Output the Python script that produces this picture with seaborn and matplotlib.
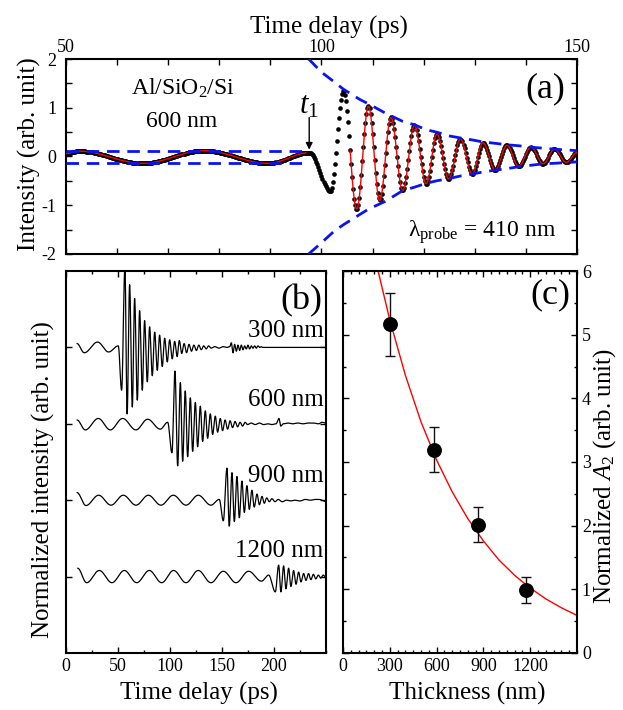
import numpy as np
import seaborn as sns
import matplotlib.pyplot as plt
from matplotlib.ticker import MultipleLocator, FixedLocator, NullFormatter

sns.set_theme(style='ticks')
# Times-like serif, set after set_theme
plt.rcParams['font.family'] = ['Liberation Serif', 'DejaVu Serif']
plt.rcParams['mathtext.fontset'] = 'custom'
plt.rcParams['mathtext.rm'] = 'Liberation Serif'
plt.rcParams['mathtext.it'] = 'Liberation Serif:italic'
plt.rcParams['axes.unicode_minus'] = False
for k in ['text.color', 'axes.labelcolor', 'xtick.color', 'ytick.color', 'axes.edgecolor']:
    plt.rcParams[k] = 'black'

# ---------------- data ----------------
# (a) 600 nm trace, turning points (ps, arb. unit)
a_t = [50.0, 52.5, 65.0, 77.0, 89.5, 97.7, 101.7, 104.3, 106.9, 109.2, 111.4, 113.6,
       115.9, 118.2, 120.5, 122.6, 124.9, 127.2, 129.5, 131.6, 134.0, 136.3, 138.6,
       141.0, 143.4, 145.6, 147.9, 150.0]
a_v = [0.06, 0.11, -0.14, 0.12, -0.14, 0.08, -0.71, 1.35, -1.08, 1.03, -0.90, 0.80,
       -0.70, 0.64, -0.56, 0.46, -0.46, 0.36, -0.36, 0.28, -0.28, 0.23, -0.20,
       0.19, -0.15, 0.15, -0.12, 0.08]
fit_pre_end = 97.0     # red fit before t1
fit_post_start = 105.6  # red fit of the echo
# blue dashed guides
band_t = [50.0, 97.5]
band_hi = [0.12, 0.12]
band_lo = [-0.14, -0.14]
env_t = [97.5, 100.0, 102.5, 104.3, 107.5, 109.2, 112.5, 115.9, 118.2, 120.5, 122.5,
         125.1, 127.2, 129.5, 131.5, 134.0, 136.3, 138.6, 141.0, 143.4, 145.6, 150.0]
env_hi = [2.00, 1.73, 1.53, 1.38, 1.17, 1.08, 0.89, 0.72, 0.65, 0.55, 0.50,
          0.42, 0.38, 0.34, 0.30, 0.27, 0.24, 0.22, 0.19, 0.17, 0.15, 0.12]
env_lo = [-2.00, -1.77, -1.53, -1.40, -1.19, -1.08, -0.92, -0.70, -0.63, -0.55, -0.50,
          -0.45, -0.40, -0.36, -0.32, -0.28, -0.25, -0.21, -0.18, -0.15, -0.14, -0.11]

# (b) normalized traces, turning points (ps, arb. unit), offset per thickness
b_labels = ['300 nm', '600 nm', '900 nm', '1200 nm']
b_offsets = [3, 2, 1, 0]
b_label_y = [3.13, 2.23, 1.24, 0.26]
t300 = [10.6, 17.6, 30.4, 41.0, 50.3, 53.5, 56.7, 58.8, 61.2, 63.8, 66.0, 68.6, 70.8,
        73.4, 75.6, 78.2, 80.4, 83.0, 85.3, 87.8, 90.0, 92.6, 94.9, 97.4, 99.7, 102.2,
        104.5, 106.9, 109.0, 111.3, 113.6, 116.0, 118.3, 120.7, 123.0, 125.4, 127.7,
        130.1, 132.4, 134.8, 137.1, 139.5, 143.0, 147.0, 151.0, 155.0, 157.5, 159.0,
        160.6, 162.2, 163.8, 165.4, 167.0, 168.6, 170.2, 171.8, 173.4, 175.0, 176.6,
        178.2, 179.8, 181.4, 183.0, 184.6, 186.2, 187.8, 189.0, 250.0]
v300 = [0.05, -0.07, 0.07, -0.06, 0.02, -0.56, 1.05, -0.87, 0.82, -0.78, 0.64, -0.69, 0.48,
        -0.56, 0.35, -0.45, 0.27, -0.37, 0.20, -0.30, 0.16, -0.25, 0.12, -0.19, 0.10, -0.15,
        0.08, -0.12, 0.09, -0.08, 0.05, -0.07, 0.04, -0.05, 0.03, -0.04, 0.03,
        -0.03, 0.02, -0.02, 0.02, -0.01, 0.01, -0.01, 0.01, 0.00, 0.01, 0.06,
        -0.07, 0.04, -0.05, 0.03, -0.04, 0.03, -0.03, 0.02, -0.02, 0.03, -0.02,
        0.02, -0.01, 0.02, -0.01, 0.02, 0.00, 0.01, 0.00, 0.00]
t600 = [10.6, 18.6, 31.1, 42.6, 54.5, 67.3, 78.5, 90.7, 97.8, 101.9, 104.8, 107.4, 110.0,
        112.2, 114.7, 117.0, 119.6, 121.8, 124.4, 126.6, 129.2, 131.4, 134.0, 136.2,
        138.8, 141.0, 143.6, 145.8, 148.4, 150.6, 153.0, 155.4, 157.8, 160.2, 162.6,
        165.0, 167.4, 169.8, 172.2, 174.6, 178.0, 182.0, 186.0, 190.0, 194.0, 198.0,
        202.0, 204.8, 206.5, 209.0, 213.0, 218.0, 223.0, 228.0, 233.0, 238.0, 243.0,
        246.0, 250.0]
v600 = [0.05, -0.08, 0.07, -0.08, 0.07, -0.08, 0.06, -0.07, 0.02, -0.38, 0.69, -0.55, 0.54,
        -0.49, 0.43, -0.43, 0.34, -0.36, 0.28, -0.30, 0.23, -0.23, 0.17, -0.19,
        0.13, -0.14, 0.10, -0.11, 0.07, -0.09, 0.05, -0.07, 0.04, -0.05, 0.03,
        -0.04, 0.02, -0.03, 0.02, -0.01, 0.01, -0.01, 0.01, -0.01, 0.00, -0.01,
        0.00, 0.07, -0.03, 0.00, 0.01, 0.00, 0.01, 0.00, 0.01, 0.01, 0.00,
        0.02, 0.01]
t900 = [10.6, 19.2, 31.4, 43.3, 55.1, 67.3, 79.2, 91.3, 103.2, 115.4, 127.2, 139.4, 147.4,
        151.3, 154.8, 157.0, 159.6, 161.9, 164.4, 166.7, 169.2, 171.5, 174.0, 176.3,
        178.8, 181.0, 183.7, 186.0, 188.5, 190.7, 193.0, 195.5, 198.0, 201.0, 204.0,
        208.0, 212.0, 216.0, 220.0, 225.0, 230.0, 235.0, 240.0, 244.0, 248.0, 250.0]
v900 = [0.10, -0.07, 0.065, -0.065, 0.065, -0.065, 0.065, -0.065, 0.065, -0.065, 0.065, -0.065, 0.01,
        -0.27, 0.42, -0.34, 0.36, -0.28, 0.31, -0.23, 0.25, -0.16, 0.19, -0.12,
        0.13, -0.09, 0.08, -0.06, 0.05, -0.04, 0.03, -0.02, 0.02, -0.02, 0.01,
        -0.02, 0.00, -0.01, 0.00, -0.01, 0.01, 0.00, 0.01, 0.01, -0.01, -0.02]
t1200 = [11.2, 19.9, 32.0, 44.2, 56.1, 68.0, 80.1, 92.0, 103.5, 115.4, 127.2, 139.4, 151.3,
         163.5, 175.6, 188.0, 194.9, 201.3, 204.5, 206.7, 209.3, 211.5, 214.1, 216.3,
         218.9, 221.2, 223.7, 226.0, 228.5, 230.8, 233.2, 235.5, 237.9, 240.2, 242.6,
         245.0, 247.3, 250.0]
v1200 = [0.11, -0.08, 0.08, -0.08, 0.08, -0.08, 0.08, -0.08, 0.08, -0.08, 0.08, -0.08, 0.07,
         -0.08, 0.07, -0.06, 0.02, -0.20, 0.15, -0.20, 0.14, -0.16, 0.11, -0.13,
         0.08, -0.10, 0.06, -0.07, 0.04, -0.05, 0.04, -0.04, 0.03, -0.03, 0.02,
         -0.02, 0.02, -0.01]

# (c) normalized A2 vs thickness
thick = [298, 583, 868, 1170]
a2 = [5.16, 3.19, 2.01, 0.99]
a2_hi = [5.65, 3.55, 2.30, 1.19]
a2_lo = [4.67, 2.85, 1.74, 0.79]
fit_x = [220, 300, 400, 500, 600, 700, 800, 900, 1000, 1100, 1200, 1300, 1400, 1500]
fit_y = [6.05, 5.23, 4.36, 3.63, 3.03, 2.53, 2.11, 1.76, 1.46, 1.22, 1.02, 0.85, 0.71, 0.59]


def curve(tp, vp, t):
    # half-cosine arcs between the turning points
    tp = np.asarray(tp); vp = np.asarray(vp)
    i = np.clip(np.searchsorted(tp, t, side='right') - 1, 0, len(tp) - 2)
    s = (t - tp[i]) / (tp[i + 1] - tp[i])
    return vp[i] + (vp[i + 1] - vp[i]) * (1 - np.cos(np.pi * s)) / 2


def style_ax(ax, major=4, minor=2.5):
    for sp in ax.spines.values():
        sp.set_linewidth(1.5)
        sp.set_color('black')
    ax.tick_params(which='both', direction='in', top=True, bottom=True, left=True, right=True,
                   width=1, colors='black', labelsize=13)
    ax.tick_params(which='major', length=major)
    ax.tick_params(which='minor', length=minor)


fig = plt.figure(figsize=(6.23, 7.10), dpi=100)
ax_a = fig.add_axes([0.1059, 0.6423, 0.8202, 0.2746])
ax_b = fig.add_axes([0.1059, 0.0803, 0.4173, 0.5380])
ax_c = fig.add_axes([0.5506, 0.0803, 0.3756, 0.5380])

# ---------------- (a) ----------------
t_dots = np.arange(50.0, 150.001, 0.2)
sns.scatterplot(x=t_dots, y=curve(a_t, a_v, t_dots), ax=ax_a, color='black', s=11,
                linewidth=0, zorder=2)
tf1 = np.arange(50.0, fit_pre_end, 0.05)
tf2 = np.arange(fit_post_start, 150.0, 0.05)
sns.lineplot(x=tf1, y=curve(a_t, a_v, tf1), ax=ax_a, color='red', lw=1.0, estimator=None, zorder=3)
sns.lineplot(x=tf2, y=curve(a_t, a_v, tf2), ax=ax_a, color='red', lw=1.0, estimator=None, zorder=3)
dash = (0, (4.5, 2.8))
for yy in (band_hi, band_lo):
    sns.lineplot(x=band_t, y=yy, ax=ax_a, color='#0a14f0', lw=2.0, ls=dash, estimator=None, zorder=4)
for yy in (env_hi, env_lo):
    sns.lineplot(x=env_t, y=yy, ax=ax_a, color='#0a14f0', lw=2.0, ls=dash, estimator=None, zorder=4)

ax_a.set_xlim(50, 150)
ax_a.set_ylim(-2, 2)
ax_a.xaxis.set_major_locator(MultipleLocator(50))
ax_a.xaxis.set_minor_locator(MultipleLocator(10))
ax_a.yaxis.set_major_locator(MultipleLocator(1))
ax_a.yaxis.set_minor_locator(MultipleLocator(0.5))
style_ax(ax_a, 4, 4)
ax_a.tick_params(axis='x', labeltop=True, labelbottom=False, pad=2)
ax_a.tick_params(axis='y', pad=7)
ax_a.xaxis.set_label_position('top')
ax_a.set_xlabel('Time delay (ps)', fontsize=18)
ax_a.set_ylabel('Intensity (arb. unit)', fontsize=18)
ax_a.xaxis.set_label_coords(0.515, 1.13)
ax_a.yaxis.set_label_coords(-0.049, 0.51)

ax_a.text(72.8, 1.26, r'Al/SiO$_2$/Si', fontsize=17, ha='center', va='baseline')
ax_a.text(72.6, 0.60, '600 nm', fontsize=17, ha='center', va='baseline')
ax_a.text(131.4, -1.65, r'$\mathrm{\lambda_{probe}}$ = 410 nm', fontsize=17, ha='center', va='baseline')
ax_a.text(147.8, 1.22, '(a)', fontsize=26, ha='right', va='baseline')
ax_a.text(97.6, 0.89, r'$t_1$', fontsize=22, ha='center', va='baseline')
ax_a.annotate('', xy=(97.6, 0.14), xytext=(97.6, 0.80),
              arrowprops=dict(arrowstyle='-|>', color='black', lw=1, mutation_scale=10,
                              shrinkA=0, shrinkB=0))

# ---------------- (b) ----------------
for tp, vp, off in zip([t300, t600, t900, t1200], [v300, v600, v900, v1200], b_offsets):
    tt = np.arange(tp[0], tp[-1] + 1e-9, 0.1)
    sns.lineplot(x=tt, y=curve(tp, vp, tt) + off, ax=ax_b, color='black', lw=0.9, estimator=None)
for lab, yy in zip(b_labels, b_label_y):
    ax_b.text(247.5, yy, lab, fontsize=18, ha='right', va='baseline')
ax_b.text(0.988, 0.90, '(b)', transform=ax_b.transAxes, fontsize=26, ha='right', va='baseline')

ax_b.set_xlim(0, 250)
ax_b.set_ylim(-1, 4)
ax_b.xaxis.set_major_locator(FixedLocator([0, 50, 100, 150, 200]))
ax_b.xaxis.set_minor_locator(MultipleLocator(25))
ax_b.yaxis.set_major_locator(FixedLocator(b_offsets))
ax_b.yaxis.set_major_formatter(NullFormatter())
style_ax(ax_b)
ax_b.tick_params(axis='x', pad=3.5)
ax_b.set_xlabel('Time delay (ps)', fontsize=18)
ax_b.set_ylabel('Normalized intensity (arb. unit)', fontsize=18)
ax_b.xaxis.set_label_coords(0.512, -0.076)
ax_b.yaxis.set_label_coords(-0.042, 0.453)

# ---------------- (c) ----------------
sns.lineplot(x=fit_x, y=fit_y, ax=ax_c, color='red', lw=1.0, estimator=None, zorder=2)
yerr = [np.array(a2) - np.array(a2_lo), np.array(a2_hi) - np.array(a2)]
ax_c.errorbar(thick, a2, yerr=yerr, fmt='none', ecolor='#111111', elinewidth=1.0,
              capsize=3.6, capthick=1.0, zorder=3)
sns.scatterplot(x=thick, y=a2, ax=ax_c, color='black', s=115, linewidth=0, zorder=4)
ax_c.text(0.97, 0.916, '(c)', transform=ax_c.transAxes, fontsize=26, ha='right', va='baseline')

ax_c.set_xlim(0, 1500)
ax_c.set_ylim(0, 6)
ax_c.xaxis.set_major_locator(FixedLocator([0, 300, 600, 900, 1200]))
ax_c.xaxis.set_minor_locator(MultipleLocator(50))
ax_c.yaxis.set_major_locator(MultipleLocator(1))
ax_c.yaxis.set_minor_locator(MultipleLocator(0.5))
style_ax(ax_c)
ax_c.tick_params(axis='x', pad=3.5)
ax_c.tick_params(axis='y', labelleft=False, labelright=True, pad=3.5)
ax_c.yaxis.set_label_position('right')
ax_c.set_xlabel('Thickness (nm)', fontsize=18)
ax_c.set_ylabel(r'Normalized $A_2$ (arb. unit)', fontsize=18)
ax_c.xaxis.set_label_coords(0.53, -0.076)
ax_c.yaxis.set_label_coords(1.06, 0.463)

fig.savefig('out.png', dpi=100)
